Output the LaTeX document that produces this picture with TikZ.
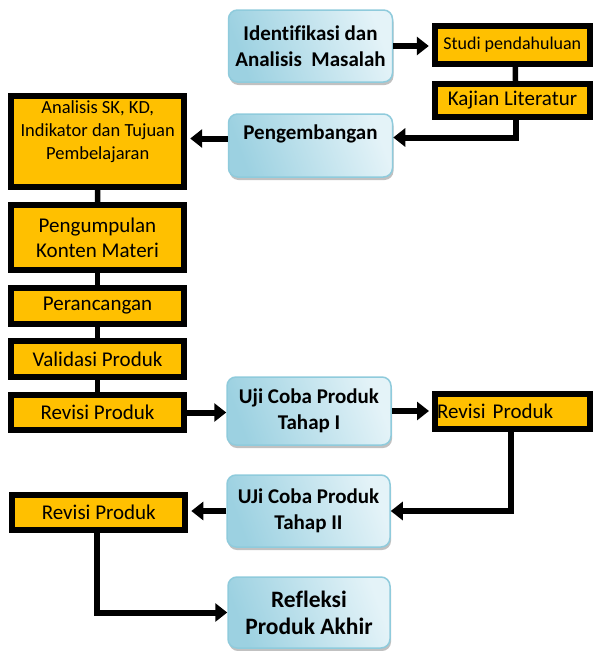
\documentclass[tikz,border=0pt]{standalone}
\usepackage{fontspec}
\setmainfont[Ligatures=NoCommon,RawFeature=-liga]{Carlito}
\usetikzlibrary{arrows.meta,shadows,calc}
\definecolor{org}{HTML}{FFC000}
\definecolor{bstroke}{HTML}{8FCBDC}
\definecolor{bdark}{HTML}{9CD1E1}
\definecolor{blight}{HTML}{E4F3F8}
\tikzset{
  bluebox/.style={draw=bstroke, line width=1.5pt, rounded corners=9pt,
    left color=bdark, right color=blight, shading angle=110,
    drop shadow={shadow xshift=1pt, shadow yshift=-3pt, opacity=0.4, fill=black!60},
    font=\bfseries\fontsize{21}{26}\selectfont, align=center, inner sep=0pt},
  orgbox/.style={draw=black, line width=6pt, fill=org, align=center, inner sep=0pt,
    font=\fontsize{21}{25}\selectfont},
  conn/.style={line width=5.5pt},
  arr/.style={line width=6pt, -{Triangle[length=12pt,width=18pt]}},
}
\begin{document}
\begin{tikzpicture}[x=1pt,y=-1pt]
\useasboundingbox[fill=white] (0,0) rectangle (594,651);
% blue boxes
\node[bluebox, minimum width=164pt, minimum height=72pt] (ident) at (310.5,46) {Identif\kern0pt ikasi dan\\Analisis\ \ Masalah};
\node[bluebox, minimum width=164pt, minimum height=63pt] (peng) at (310.5,145.5) {Pengembangan\\\mbox{}};
\node[bluebox, minimum width=164pt, minimum height=68pt] (uji1) at (309,411) {Uji Coba Produk\\Tahap I};
\node[bluebox, minimum width=163pt, minimum height=72pt] (uji2) at (308.5,511) {UJi Coba Produk\\Tahap II};
\node[bluebox, minimum width=162pt, minimum height=71pt, font=\bfseries\fontsize{23.5}{27}\selectfont] (refl) at (309,612.5) {Ref\kern0pt leksi\\Produk Akhir};
% orange boxes
\node[orgbox, minimum width=155pt, minimum height=38pt, font=\fontsize{18}{22}\selectfont] (studi) at (512.3,44.7) {Studi pendahuluan};
\node[orgbox, minimum width=155pt, minimum height=33pt] (kajian) at (512.5,100.5) {Kajian Literatur};
\node[orgbox, minimum width=173pt, minimum height=91pt, font=\fontsize{18.5}{23}\selectfont] (anal) at (97.7,141.5) {Analisis SK, KD,\\Indikator dan Tujuan\\Pembelajaran\\\mbox{}};
\node[orgbox, minimum width=173pt, minimum height=65pt] (kumpul) at (97.5,237.5) {Pengumpulan\\Konten Materi};
\node[orgbox, minimum width=173pt, minimum height=36pt] (ranc) at (97.5,306) {Perancangan};
\node[orgbox, minimum width=173pt, minimum height=36pt] (valid) at (97.5,359) {Validasi Produk};
\node[orgbox, minimum width=173pt, minimum height=35pt] (rev1) at (97.5,412.5) {Revisi Produk};
\node[orgbox, minimum width=155pt, minimum height=35pt, text width=151pt, align=left, inner xsep=2pt] (revR) at (512.5,411) {Revisi Produk};
\node[orgbox, minimum width=173pt, minimum height=35.6pt] (rev2) at (98.8,512.5) {Revisi Produk};
% connectors
\draw[arr, shorten >=3pt] (ident.east) -- (ident.east -| studi.west);
\draw[conn] ([xshift=3pt]studi.south) -- ([xshift=3pt]kajian.north);
\draw[arr] ([xshift=3pt]kajian.south) |- ([yshift=8pt]peng.east);
\draw[arr, shorten >=3pt] ([yshift=7pt]peng.west) -- ([yshift=7pt]peng.west -| anal.east);
\draw[conn] (anal.south) -- (kumpul.north);
\draw[conn] (kumpul.south) -- (ranc.north);
\draw[conn] (ranc.south) -- (valid.north);
\draw[conn] (valid.south) -- (rev1.north);
\draw[arr] (rev1.east) -- (rev1.east -| uji1.west);
\draw[arr, shorten >=3pt] (uji1.east) -- (uji1.east -| revR.west);
\draw[arr] ([xshift=-2pt]revR.south) |- (uji2.east);
\draw[arr, shorten >=3pt] (uji2.west) -- (uji2.west -| rev2.east);
\draw[arr] ([xshift=-2pt]rev2.south) |- (refl.west);
\end{tikzpicture}
\end{document}
